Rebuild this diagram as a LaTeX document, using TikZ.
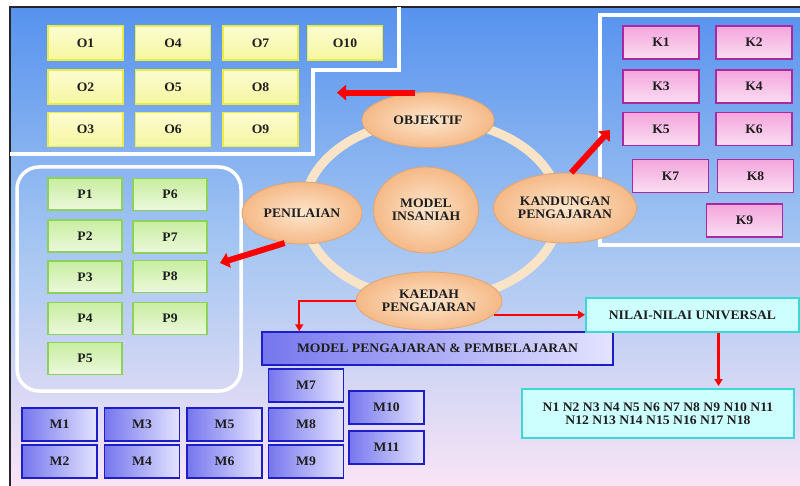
\documentclass[tikz,border=0pt]{standalone}
\usepackage{fontspec}
\setmainfont{Liberation Serif}[FakeStretch=1.05]
\usepackage{tikz}
\usetikzlibrary{shapes.geometric,arrows.meta}

\definecolor{bgtop}{RGB}{86,146,238}
\definecolor{bgmid}{RGB}{165,198,242}
\definecolor{bgbot}{RGB}{250,228,246}
\definecolor{otop}{RGB}{252,252,210}
\definecolor{obot}{RGB}{246,246,160}
\definecolor{oline}{RGB}{236,236,70}
\definecolor{ktop}{RGB}{244,165,220}
\definecolor{kbot}{RGB}{250,222,242}
\definecolor{kline}{RGB}{170,40,160}
\definecolor{ptop}{RGB}{200,238,160}
\definecolor{pbot}{RGB}{236,248,220}
\definecolor{pline}{RGB}{140,210,90}
\definecolor{mleft}{RGB}{118,118,238}
\definecolor{mright}{RGB}{228,228,255}
\definecolor{mline}{RGB}{30,30,200}
\definecolor{cyfill}{RGB}{205,255,255}
\definecolor{cyline}{RGB}{60,215,215}
\definecolor{ellin}{RGB}{253,230,205}
\definecolor{ellout}{RGB}{245,185,135}
\definecolor{ellline}{RGB}{222,165,115}
\definecolor{ringc}{RGB}{250,228,200}
\definecolor{txt}{RGB}{30,30,30}

\tikzset{
  lbl/.style={font=\bfseries\fontsize{13}{13.5}\selectfont, text=txt, inner sep=0pt, align=center},
  obox/.style={lbl, draw=oline, line width=1.6pt, top color=otop, bottom color=obot, minimum width=75pt, minimum height=34pt},
  kbox/.style={lbl, draw=kline, line width=1.4pt, top color=ktop, bottom color=kbot, minimum width=76pt, minimum height=33pt},
  pbox/.style={lbl, draw=pline, line width=1.4pt, top color=ptop, bottom color=pbot, minimum width=74pt, minimum height=32pt},
  mbox/.style={lbl, draw=mline, line width=1.5pt, left color=mleft, right color=mright, minimum width=75pt, minimum height=33pt},
  cybox/.style={lbl, draw=cyline, line width=2pt, fill=cyfill},
  ell/.style={lbl, ellipse, draw=ellline, line width=0.8pt, inner color=ellin, outer color=ellout},
  region/.style={white, line width=3.5pt},
  bigarrow/.style={red, line width=6pt, -{Triangle[length=9pt,width=15pt]}},
  redline/.style={red, line width=2.2pt, -{Triangle[length=7pt,width=8pt]}}
}

\begin{document}
\begin{tikzpicture}[x=1pt,y=-1pt]
\useasboundingbox (0,0) rectangle (800,486);
% background and frame
\shade[top color=bgtop, bottom color=bgbot, middle color=bgmid] (10,7) rectangle (800,486);
\draw[black!85, line width=1.5pt] (10,486) -- (10,7) -- (800,7);

% white regions
\draw[region] (399,7) -- (399,70) -- (313,70) -- (313,154) -- (10,154);
\draw[region] (805,15) -- (600,15) -- (600,245) -- (805,245);
\draw[region, rounded corners=22pt] (17,167) rectangle (241,391);

% ring
\draw[ringc, line width=9pt] (432,210) ellipse [x radius=128pt, y radius=90pt];

% ellipses
\node[ell, minimum width=132pt, minimum height=55pt] (obj) at (428,120) {OBJEKTIF};
\node[ell, minimum width=120pt, minimum height=62pt] (pen) at (302,213) {PENILAIAN};
\node[ell, minimum width=105pt, minimum height=86pt] (mi) at (426,210) {MODEL\\INSANIAH};
\node[ell, minimum width=143pt, minimum height=70pt] (kan) at (565,208) {KANDUNGAN\\PENGAJARAN};
\node[ell, minimum width=146pt, minimum height=58pt] (kae) at (429,301) {KAEDAH\\PENGAJARAN};

% boxes
\foreach \t/\x/\y in {O1/85.5/43, O4/173/43, O7/260.5/43, O10/345/43,
  O2/85.5/87, O5/173/87, O8/260.5/87,
  O3/85.5/129.5, O6/173/129.5, O9/260.5/129.5}
  \node[obox] (\t) at (\x,\y) {\t};
\foreach \t/\x/\y in {K1/661/42.5, K2/754/42.5, K3/661/86.5, K4/754/86.5,
  K5/661/129, K6/754/129, K7/670.5/176, K8/755.5/176, K9/744.5/220.5}
  \node[kbox] (\t) at (\x,\y) {\t};
\foreach \t/\x/\y in {P1/85/194, P2/85/236, P3/85/277, P4/85/318.5, P5/85/358.5,
  P6/170/194.5, P7/170/237, P8/170/276.5, P9/170/318.5}
  \node[pbox] (\t) at (\x,\y) {\t};
\foreach \t/\x/\y in {M1/59.5/424.5, M2/59.5/461.5, M3/142/424.5, M4/142/461.5,
  M5/224.5/424.5, M6/224.5/461.5, M7/306/385.5, M8/306/424.5, M9/306/461.5,
  M10/386.5/407.5, M11/386.5/447.5}
  \node[mbox] (\t) at (\x,\y) {\t};

\node[mbox, minimum width=351pt] (mpb) at (437.5,348.5) {MODEL PENGAJARAN \& PEMBELAJARAN};
\node[cybox, minimum width=213pt, minimum height=34pt] (nil) at (692.5,315) {NILAI-NILAI UNIVERSAL};
\node[cybox, minimum width=272pt, minimum height=49pt] (nbx) at (658,413.5)
  {N1 N2 N3 N4 N5 N6 N7 N8 N9 N10 N11\\N12 N13 N14 N15 N16 N17 N18};

% arrows
\coordinate (oin) at (337,0);
\coordinate (pin) at (220,263);
\coordinate (kin) at (610,130);
\draw[bigarrow] (obj.115) -- (obj.115 -| oin);
\draw[bigarrow] (pen.240) -- (pin);
\draw[bigarrow] (kan.80) -- (kin);
\draw[redline] (kae.west) -| ([xshift=38pt]mpb.north west);
\draw[redline] (kae.-12) -- (kae.-12 -| nil.west);
\draw[redline, shorten >=2pt] ([xshift=26pt]nil.south) -- ([xshift=26pt]nil.south |- nbx.north);

\end{tikzpicture}
\end{document}
